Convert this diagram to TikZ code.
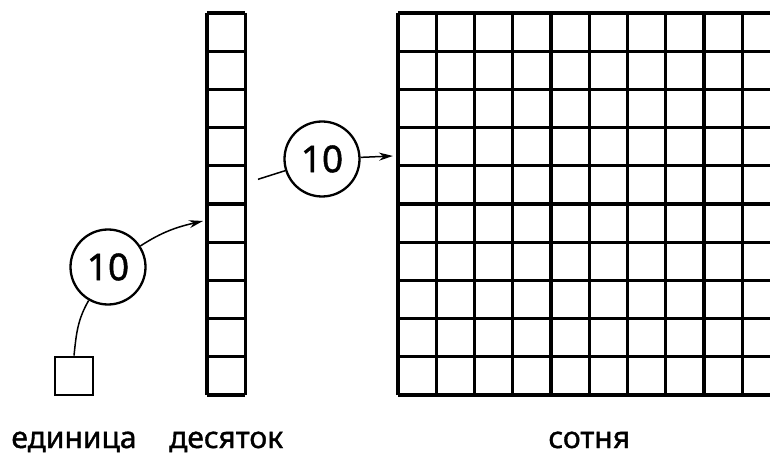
\documentclass[tikz,border=0pt]{standalone}
\usepackage{fontspec}
\setmainfont{Noto Sans}
\newfontfamily\medfont{Noto Sans}[FakeBold=1.2]
\usetikzlibrary{arrows.meta}
\tikzset{
  cell/.style={line width=3.1pt},
  unitbox/.style={draw, line width=2.8pt, minimum width=38pt, minimum height=38pt, inner sep=0pt},
  frame/.style={inner sep=0pt},
  ten/.style={circle, draw, line width=2.3pt, minimum size=75pt, inner sep=0pt, font=\medfont\fontsize{37}{37}\selectfont},
  link/.style={line width=1.5pt},
  arr/.style={link, -{Stealth[length=14pt,width=8pt]}},
  lbl/.style={anchor=base, inner sep=0pt, font=\medfont\fontsize{30}{32}\selectfont}
}
\begin{document}
\begin{tikzpicture}[x=1pt,y=1pt]
\useasboundingbox (0,0) rectangle (770,458);
\begin{scope}
\clip (0,0) rectangle (770,458);
% column of ten
\begin{scope}[shift={(207,63)}]
\draw[cell] (0,0) grid[xstep=38.3,ystep=38.2] (38.3,382);
\end{scope}
% hundred grid
\begin{scope}[shift={(398,63)}]
\draw[cell] (0,0) grid[xstep=38.25,ystep=38.2] (382.5,382);
\end{scope}
\end{scope}
% invisible frames for the column and grid
\node[frame, minimum width=38.3pt, minimum height=382pt] (col) at (226.15,254) {};
\node[frame, minimum width=382.5pt, minimum height=382pt] (hund) at (589.25,254) {};
% single unit
\node[unitbox] (sq) at (74,82) {};
% circles
\node[ten] (c1) at (108,191) {10};
\node[ten] (c2) at (322,299) {10};
% arrow targets and free start
\coordinate (t1) at (203,237);
\coordinate (f2) at (258,278.7);
\coordinate (t2) at (393,302);
% connectors
\draw[link] (sq.north) to[out=84,in=240] (c1);
\draw[arr] (c1) to[out=33,in=193] (t1);
\draw[link] (f2) -- (c2);
\draw[arr] (c2) -- (t2);
% labels
\node[lbl] at (sq.south |- 0,10) {единица};
\node[lbl] at (col.south |- 0,10) {десяток};
\node[lbl] at (hund.south |- 0,10) {сотня};
\end{tikzpicture}
\end{document}
